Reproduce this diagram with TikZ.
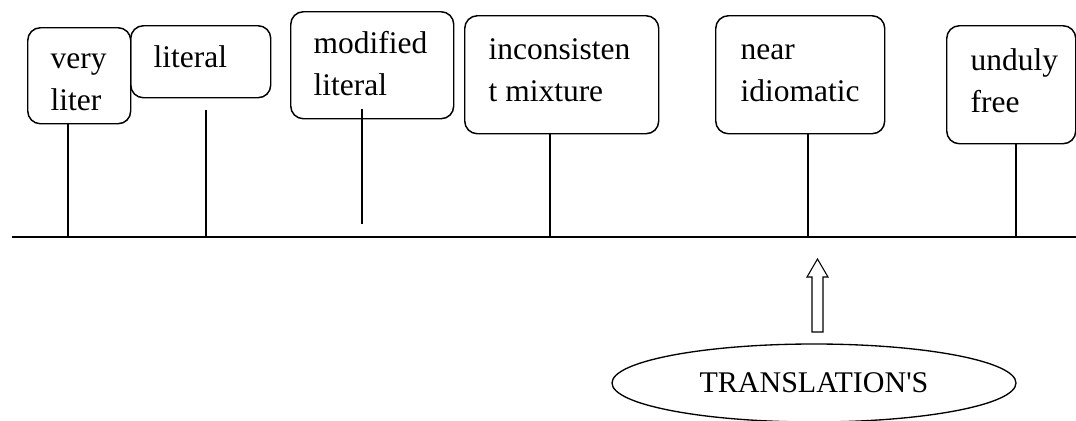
\documentclass[tikz,border=0pt]{standalone}
\usepackage{fontspec}
\setmainfont{Liberation Serif}[Ligatures=TeXOff]
\usetikzlibrary{shapes.geometric}
\newdimen\px \px=0.75pt
% width, height, left pad, first-baseline offset, text
\newcommand{\boxtxt}[5]{\parbox[c][#2\px][t]{#1\px}{\leftskip=#3\px\relax\parindent=0pt\rule{0pt}{#4\px}#5}}
\tikzset{
  lbl/.style={draw, line width=1.1pt, rounded corners=9.5pt, inner sep=0pt, anchor=north west,
              font=\fontsize{23.6pt}{31.5pt}\selectfont},
  stem/.style={line width=1.2pt},
  axisline/.style={line width=1.3pt},
  oval/.style={ellipse, draw, line width=1pt, inner sep=0pt, minimum width=303pt, minimum height=58.5pt,
               font=\fontsize{22.5pt}{27pt}\selectfont},
  blockarrow/.style={draw, line width=0.8pt, fill=white}
}
\begin{document}
\begin{tikzpicture}[x=0.75pt,y=-0.75pt]
\useasboundingbox (0,0) rectangle (1076,421);
% axis
\coordinate (L) at (12,237);
\coordinate (R) at (1076,237);
\draw[axisline] (L) -- (R);
% boxes
\node[lbl] (b1) at (27,27)  {\boxtxt{103}{96}{23}{41}{very\\liter}};
\node[lbl] (b2) at (130,25) {\boxtxt{140}{72}{23}{42}{literal}};
\node[lbl] (b3) at (290,11) {\boxtxt{163}{107}{23}{42}{modified\\literal}};
\node[lbl] (b4) at (464,15) {\boxtxt{194}{118}{24}{44}{inconsisten\\t mixture}};
\node[lbl] (b5) at (715,15) {\boxtxt{169}{118}{25}{44}{near\\idiomatic}};
\node[lbl] (b6) at (946,25) {\boxtxt{129}{118}{24}{45}{unduly\\free}};
% stems
\coordinate (a1) at (68,237);
\coordinate (a2) at (206,237);
\coordinate (a4) at (550,237);
\coordinate (a5) at (808,237);
\coordinate (a6) at (1016,237);
\coordinate (t2) at (206,110);
\coordinate (t3) at (362,109);
\coordinate (e3) at (362,224);
\draw[stem] (b1.south -| a1) -- (a1);
\draw[stem] (t2) -- (a2);
\draw[stem] (t3) -- (e3);
\draw[stem] (b4.south -| a4) -- (a4);
\draw[stem] (b5.south -| a5) -- (a5);
\draw[stem] (b6.south -| a6) -- (a6);
% ellipse
\node[oval] (tr) at (814,383) {TRANSLATION'S};
% block arrow
\draw[blockarrow] (812,332) -- (812,277) -- (807,277) -- (817.5,259) -- (828,277) -- (823,277) -- (823,332) -- cycle;
\end{tikzpicture}
\end{document}
